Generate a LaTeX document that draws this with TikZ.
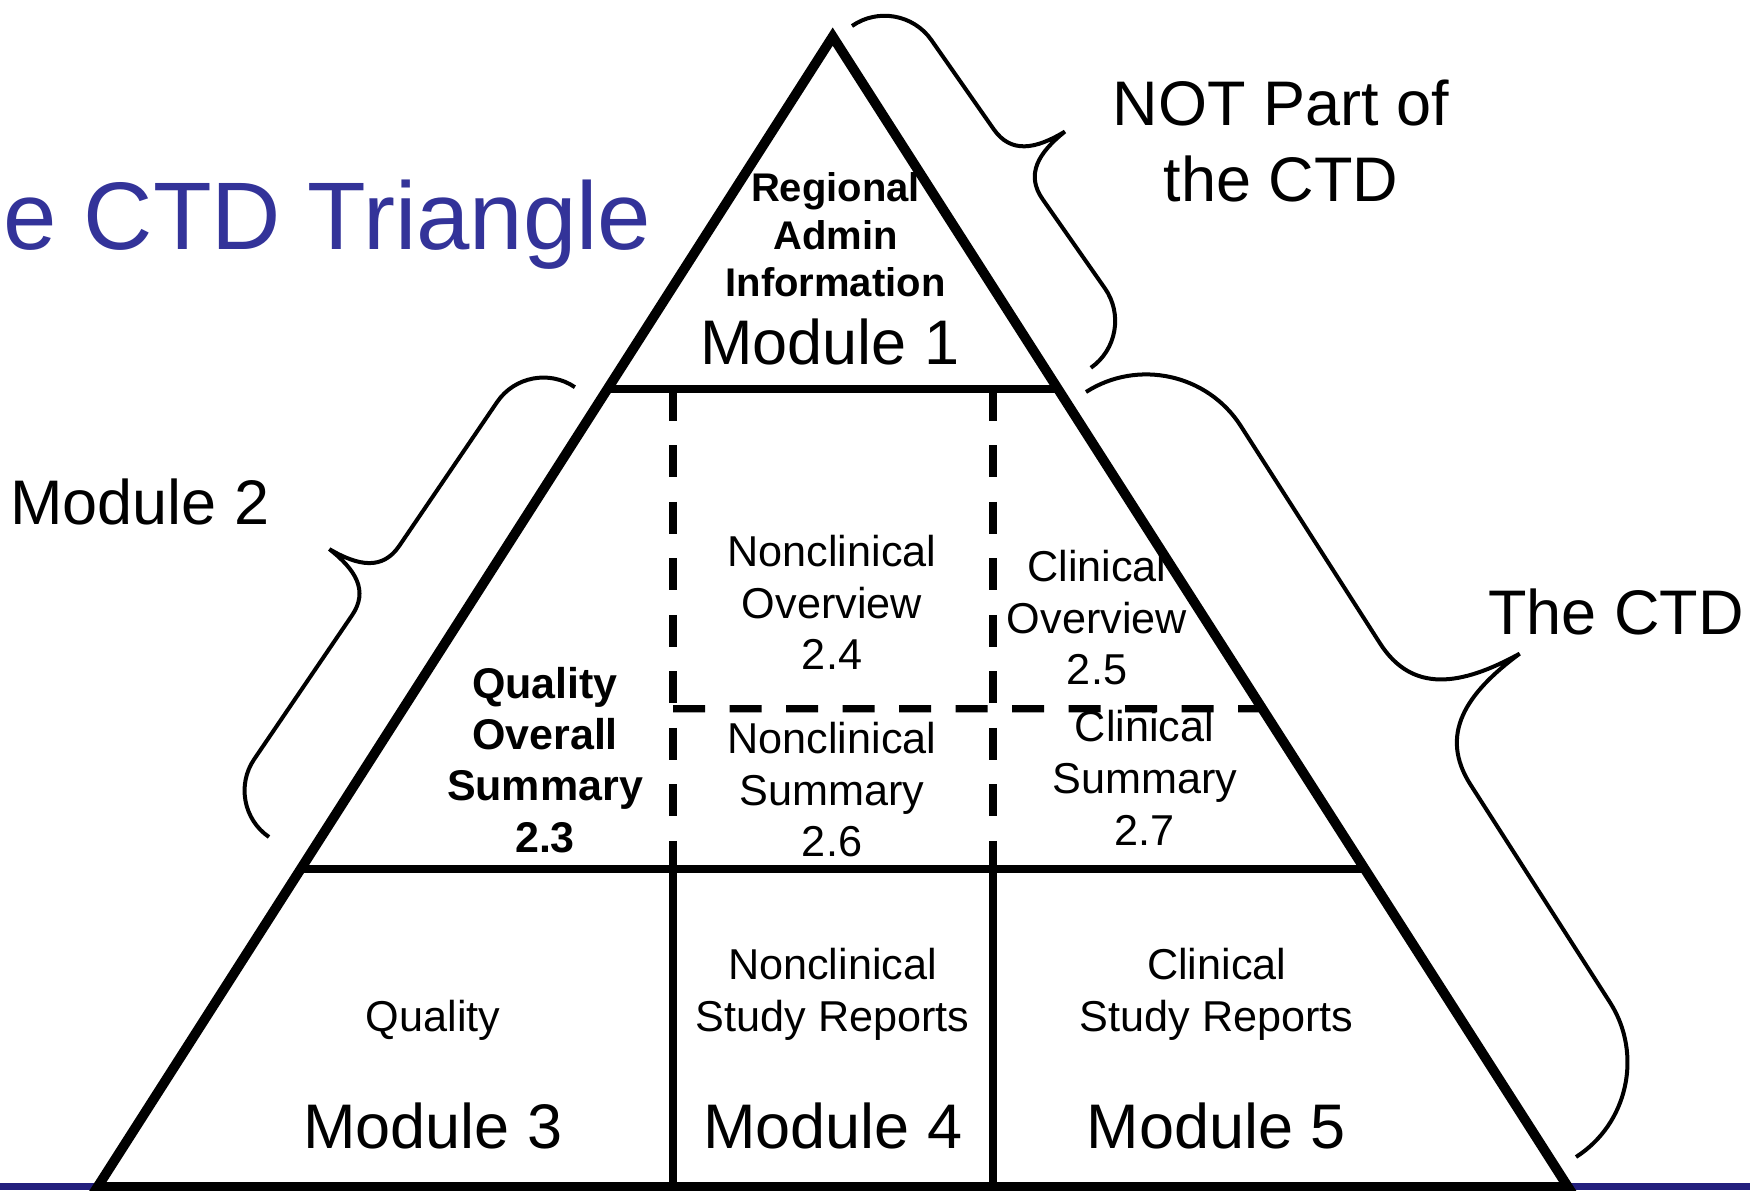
\documentclass[tikz,border=0pt]{standalone}
\usepackage{fontspec}
\setmainfont{Liberation Sans}
\usetikzlibrary{calc}
\definecolor{titleblue}{RGB}{51,51,153}
\definecolor{bandblue}{RGB}{35,31,125}
\tikzset{
  edgeline/.style={line width=4.9pt, line join=miter},
  divider/.style={line width=3.8pt},
  dashdiv/.style={line width=3.6pt, dash pattern=on 16pt off 12.25pt},
  bracestroke/.style={line width=2pt},
  biglabel/.style={font=\fontsize{31.5}{38}\selectfont, inner sep=0pt, align=center},
  cell/.style={font=\fontsize{21.6}{25.8}\selectfont, align=center, inner sep=0pt, anchor=base},
  boldcell/.style={font=\bfseries\fontsize{21.5}{25.65}\selectfont, align=center, inner sep=0pt, anchor=base},
  pics/curly/.style 2 args={code={
    \draw[bracestroke] (0,0) .. controls (0,{0.55*#2}) and ({0.45*#2},#2) .. (#2,#2)
      -- ({#1/2-0.75*#2},#2)
      .. controls ({#1/2-0.22*#2},#2) and ({#1/2-0.04*#2},{1.4*#2}) .. ({#1/2},{2*#2})
      .. controls ({#1/2+0.04*#2},{1.4*#2}) and ({#1/2+0.22*#2},#2) .. ({#1/2+0.75*#2},#2)
      -- ({#1-#2},#2) .. controls ({#1-0.45*#2},#2) and (#1,{0.55*#2}) .. (#1,0);
  }}
}
\begin{document}
\begin{tikzpicture}[x=0.5pt,y=0.5pt]
\useasboundingbox (0,0) rectangle (1750,1190);
\clip (0,0) rectangle (1750,1190);
\fill[white] (0,0) rectangle (1750,1190);
\fill[bandblue] (0,0) rectangle (1750,7);
% triangle
\coordinate (T) at (832.7,1153.4);
\coordinate (BL) at (97.5,3);
\coordinate (BR) at (1568,3);
\coordinate (m1L) at ($(T)!0.3062!(BL)$);
\coordinate (m1R) at ($(T)!0.3062!(BR)$);
\coordinate (m2L) at ($(T)!0.7236!(BL)$);
\coordinate (m2R) at ($(T)!0.7236!(BR)$);
\coordinate (dR) at ($(T)!0.5842!(BR)$);
\coordinate (v1a) at (673,801.2);
\coordinate (v1b) at (673,321);
\coordinate (v1c) at (673,3);
\coordinate (v1d) at (673,481.3);
\coordinate (v2a) at (993,801.2);
\coordinate (v2b) at (993,321);
\coordinate (v2c) at (993,3);
\draw[dashdiv] (v1a) -- (v1b);
\draw[dashdiv] (v2a) -- (v2b);
\draw[dashdiv] (v1d) -- (dR);
\draw[divider] (v1b) -- (v1c);
\draw[divider] (v2b) -- (v2c);
\draw[divider] (m1L) -- (m1R);
\draw[divider] (m2L) -- (m2R);
\draw[edgeline] (T) -- (BL) -- (BR) -- cycle;
% braces
\pic[rotate=-55.05] at (852,1164) {curly={417}{57}};
\pic[rotate=55.78] at (269,353) {curly={544}{56}};
\pic[rotate=-57.36] at (1086,798) {curly={908.5}{112}};
% texts (base anchor = baseline of the last line)
\node[anchor=base west, inner sep=0pt, text=titleblue, font=\fontsize{48}{57}\selectfont] (title) at (3.5,940) {e CTD Triangle};
\node[biglabel, anchor=base] (notpart) at (1281,988) {NOT Part of\\the CTD};
\node[biglabel, anchor=base west] (mod2) at (10,665.5) {Module 2};
\node[biglabel, anchor=base west] (thectd) at (1488,555) {The CTD};
\node[biglabel, anchor=base] (mod1) at (830,825.5) {Module 1};
\node[biglabel, anchor=base] (mod3) at (433,42) {Module 3};
\node[biglabel, anchor=base] (mod4) at (832.6,42) {Module 4};
\node[biglabel, anchor=base] (mod5) at (1216.5,42) {Module 5};
\node[boldcell, font=\bfseries\fontsize{20}{23.75}\selectfont] (regional) at (835.5,893) {Regional\\Admin\\Information};
\node[boldcell] (qos) at (545,338) {Quality\\Overall\\Summary\\2.3};
\node[cell] (nco) at (832,520) {Nonclinical\\Overview\\2.4};
\node[cell] (co) at (1097,505) {Clinical\\Overview\\2.5};
\node[cell] (ncs) at (832,333.3) {Nonclinical\\Summary\\2.6};
\node[cell] (cs) at (1144.6,345) {Clinical\\Summary\\2.7};
\node[cell] (qual) at (433,158.5) {Quality};
\node[cell] (ncsr) at (832.5,159) {Nonclinical\\Study Reports};
\node[cell] (csr) at (1216.7,159) {Clinical\\Study Reports};
\end{tikzpicture}
\end{document}
